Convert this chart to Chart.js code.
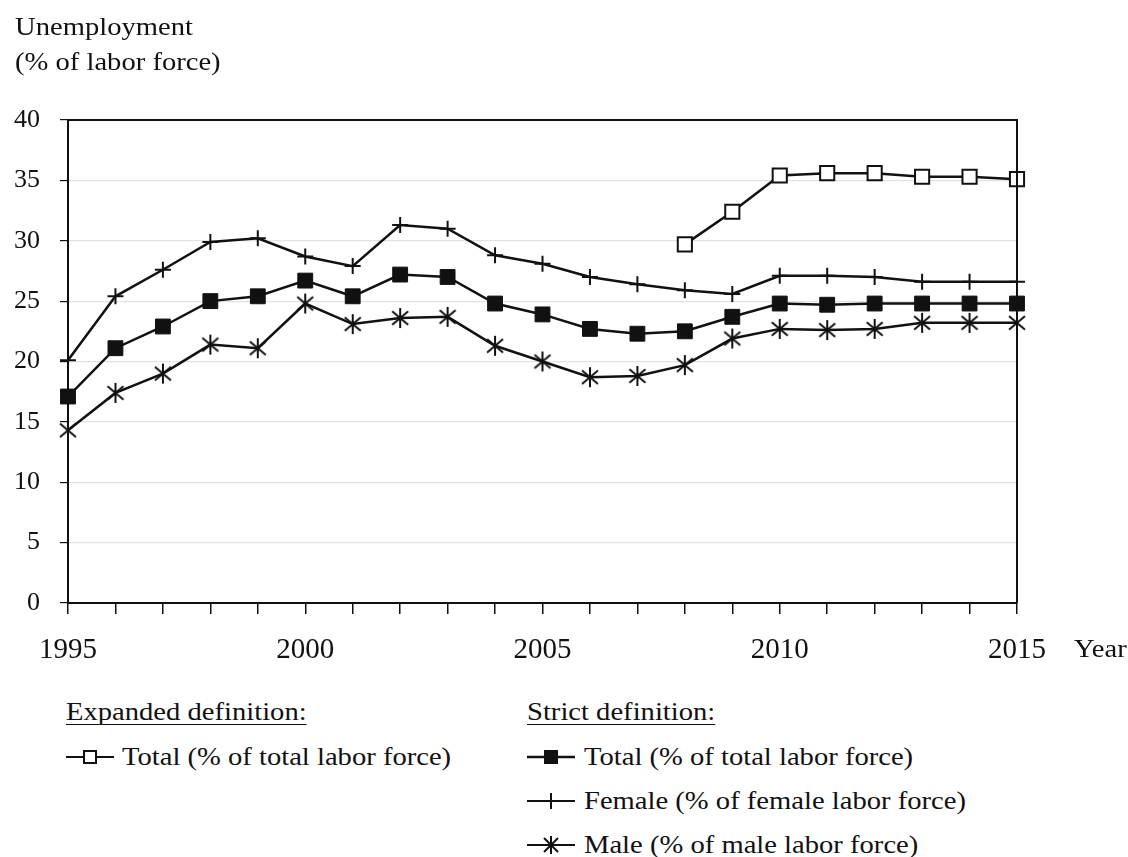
<!DOCTYPE html>
<html>
<head>
<meta charset="utf-8">
<script src="https://cdn.jsdelivr.net/npm/chart.js@4.4.1/dist/chart.umd.min.js"></script>
<style>
  body { margin: 0; background: #fff; }
  #wrap { position: relative; width: 1128px; height: 857px; font-family: 'Liberation Serif', 'Times New Roman', serif; color: #111; }
  #chartBox { position: absolute; left: 0; top: 0; width: 1128px; height: 690px; }
  .txt { position: absolute; font-size: 26px; line-height: 1; white-space: nowrap; transform: scaleX(1.1); transform-origin: left center; }
  .hdr { text-decoration: underline; text-underline-offset: 4px; text-decoration-thickness: 1px; }
  .icon { position: absolute; }
</style>
</head>
<body>
<div id="wrap">
  <div id="chartBox"><canvas id="c"></canvas></div>
  <div class="txt" style="left:15px;top:14px;">Unemployment</div>
  <div class="txt" style="left:15px;top:49px;">(% of labor force)</div>
  <div class="txt" style="left:1074px;top:636px;">Year</div>

  <div class="txt hdr" style="left:66px;top:699px;">Expanded definition:</div>
  <div class="txt hdr" style="left:527px;top:699px;">Strict definition:</div>

  <svg class="icon" style="left:66px;top:747px;" width="48" height="20"><line x1="0" y1="10" x2="48" y2="10" stroke="#111" stroke-width="2"/><rect x="18" y="4" width="12" height="12" fill="#fff" stroke="#111" stroke-width="2"/></svg>
  <div class="txt" style="left:122px;top:744px;">Total (% of total labor force)</div>

  <svg class="icon" style="left:527px;top:747px;" width="48" height="20"><line x1="0" y1="10" x2="48" y2="10" stroke="#111" stroke-width="2.5"/><rect x="17" y="3" width="14" height="14" fill="#111"/></svg>
  <div class="txt" style="left:584px;top:744px;">Total (% of total labor force)</div>

  <svg class="icon" style="left:527px;top:791px;" width="48" height="20"><line x1="0" y1="10" x2="48" y2="10" stroke="#111" stroke-width="2"/><line x1="24" y1="2" x2="24" y2="18" stroke="#111" stroke-width="2"/></svg>
  <div class="txt" style="left:584px;top:788px;">Female (% of female labor force)</div>

  <svg class="icon" style="left:527px;top:835px;" width="48" height="20"><line x1="0" y1="10" x2="48" y2="10" stroke="#111" stroke-width="2"/><line x1="24" y1="1" x2="24" y2="19" stroke="#111" stroke-width="2"/><line x1="17" y1="3" x2="31" y2="17" stroke="#111" stroke-width="2"/><line x1="31" y1="3" x2="17" y2="17" stroke="#111" stroke-width="2"/></svg>
  <div class="txt" style="left:584px;top:832px;">Male (% of male labor force)</div>
</div>
<script>
const years = [1995, 1996, 1997, 1998, 1999, 2000, 2001, 2002, 2003, 2004, 2005,
  2006, 2007, 2008, 2009, 2010, 2011, 2012, 2013, 2014, 2015];
const expandedTotal = [null, null, null, null, null, null, null, null, null, null, null,
  null, null, 29.7, 32.4, 35.4, 35.6, 35.6, 35.3, 35.3, 35.1];
const strictTotal = [17.1, 21.1, 22.9, 25.0, 25.4, 26.7, 25.4, 27.2, 27.0, 24.8, 23.9,
  22.7, 22.3, 22.5, 23.7, 24.8, 24.7, 24.8, 24.8, 24.8, 24.8];
const strictFemale = [20.1, 25.4, 27.6, 29.9, 30.2, 28.7, 27.9, 31.3, 31.0, 28.8, 28.1,
  27.0, 26.4, 25.9, 25.6, 27.1, 27.1, 27.0, 26.6, 26.6, 26.6];
const strictMale = [14.3, 17.4, 19.0, 21.4, 21.1, 24.8, 23.1, 23.6, 23.7, 21.3, 20.0,
  18.7, 18.8, 19.7, 21.9, 22.7, 22.6, 22.7, 23.2, 23.2, 23.2];
const yTicks = [0, 5, 10, 15, 20, 25, 30, 35, 40];
const xLabels = [1995, 2000, 2005, 2010, 2015];

const INK = '#111';

// six-armed asterisk marker for the male series
function asterisk(size) {
  const cv = document.createElement('canvas');
  cv.width = size; cv.height = size;
  const g = cv.getContext('2d');
  g.strokeStyle = INK;
  g.lineWidth = 2;
  const m = size / 2, r = size / 2 - 1, d = r * 0.8;
  g.beginPath();
  g.moveTo(m, m - r); g.lineTo(m, m + r);
  g.moveTo(m - d, m - d * 0.85); g.lineTo(m + d, m + d * 0.85);
  g.moveTo(m + d, m - d * 0.85); g.lineTo(m - d, m + d * 0.85);
  g.stroke();
  return cv;
}

const pts = (arr) => years.map((x, i) => ({ x, y: arr[i] }));

const frame = {
  id: 'frame',
  afterDatasetsDraw(chart) {
    const { ctx, chartArea: a } = chart;
    ctx.save();
    ctx.strokeStyle = INK;
    ctx.lineWidth = 2;
    ctx.beginPath();
    ctx.moveTo(a.left, a.top); ctx.lineTo(a.right, a.top); ctx.lineTo(a.right, a.bottom);
    ctx.stroke();
    ctx.restore();
  }
};

new Chart(document.getElementById('c'), {
  type: 'line',
  data: {
    datasets: [
      { label: 'Expanded total', data: pts(expandedTotal), borderColor: INK, borderWidth: 2.5,
        pointStyle: 'rect', pointRadius: 10, pointBackgroundColor: '#fff', pointBorderColor: INK, pointBorderWidth: 2, spanGaps: false },
      { label: 'Strict total', data: pts(strictTotal), borderColor: INK, borderWidth: 2.5,
        pointStyle: 'rect', pointRadius: 10.5, pointBackgroundColor: INK, pointBorderColor: INK, pointBorderWidth: 1 },
      { label: 'Female', data: pts(strictFemale), borderColor: INK, borderWidth: 2.5,
        pointStyle: 'cross', pointRadius: 8, pointBorderColor: INK, pointBorderWidth: 2 },
      { label: 'Male', data: pts(strictMale), borderColor: INK, borderWidth: 2.5,
        pointStyle: asterisk(22), pointRadius: 11 },
    ].map((d) => Object.assign({ tension: 0, clip: false, fill: false }, d)),
  },
  options: {
    responsive: true,
    maintainAspectRatio: false,
    animation: false,
    layout: { padding: { top: 120, right: 111, left: 0, bottom: 0 } },
    plugins: { legend: { display: false }, tooltip: { enabled: false } },
    scales: {
      x: {
        type: 'linear', min: 1995, max: 2015,
        afterBuildTicks: (s) => { s.ticks = years.map((v) => ({ value: v })); },
        afterFit: (s) => { s.height = 87; },
        border: { color: INK, width: 2 },
        grid: { drawOnChartArea: false, drawTicks: true, tickLength: 11, color: INK, lineWidth: 1.5 },
        ticks: {
          padding: 19, color: INK, maxRotation: 0, autoSkip: false,
          font: { family: "'Liberation Serif', serif", size: 29 },
          callback: (v) => (xLabels.includes(v) ? String(v) : ''),
        },
      },
      y: {
        min: 0, max: 40,
        afterBuildTicks: (s) => { s.ticks = yTicks.map((v) => ({ value: v })); },
        afterFit: (s) => { s.width = 68; },
        border: { color: INK, width: 2 },
        grid: {
          tickLength: 8, lineWidth: 1.2,
          color: (c) => (c.tick && c.tick.value === 0 ? INK : '#e2e2e2'),
          tickColor: INK,
        },
        ticks: {
          padding: 20, color: INK,
          font: { family: "'Liberation Serif', serif", size: 26 },
        },
      },
    },
  },
  plugins: [frame],
});
</script>
</body>
</html>
